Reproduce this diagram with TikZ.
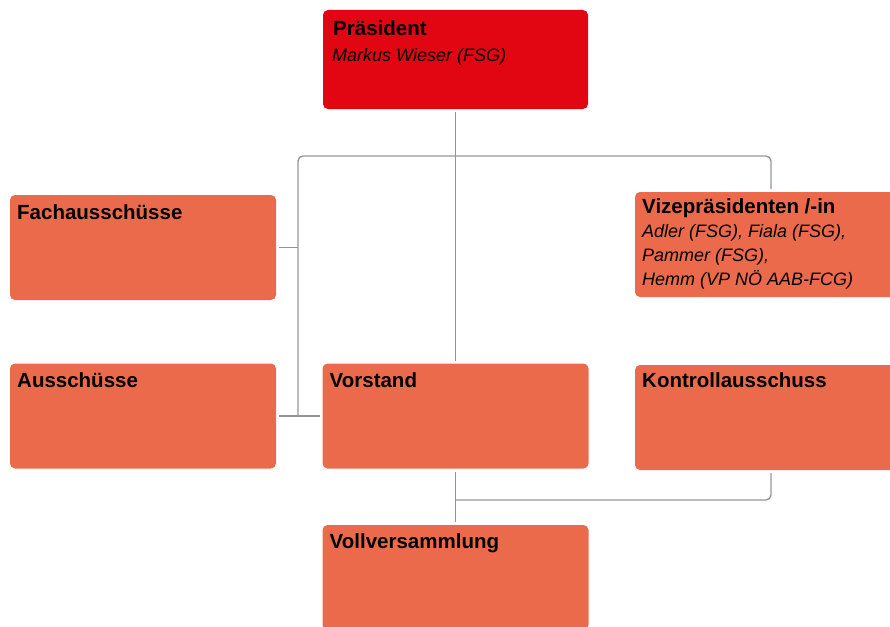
\documentclass[tikz,border=0pt]{standalone}
\usepackage{fontspec}
\setmainfont{Liberation Sans}
\usetikzlibrary{positioning}
\definecolor{chairred}{RGB}{226,6,19}
\definecolor{boxorange}{RGB}{236,106,76}
\definecolor{linegray}{RGB}{150,150,150}

\begin{document}
\begin{tikzpicture}[x=1pt,y=-1pt,
  box/.style={rectangle,rounded corners=5pt,fill=boxorange,minimum width=266pt,minimum height=105pt,inner sep=0pt,outer sep=0pt},
  title/.style={anchor=base west,inner sep=0pt,font=\fontsize{20.5}{24}\selectfont\bfseries},
  names/.style={anchor=base west,inner sep=0pt,align=left,font=\fontsize{18}{24}\selectfont\itshape},
  link/.style={draw=linegray,line width=1.4pt,rounded corners=5pt}]
  \useasboundingbox (0,0) rectangle (890,626);
  % boxes
  \node[box,fill=chairred,minimum width=265pt,minimum height=99pt] (praesident) at (455.5,59.5) {};
  \node[box] (fachaus) at (143,247.5) {};
  \node[box] (vize) at (768,244.5) {};
  \node[box] (aussch) at (143,416) {};
  \node[box] (vorstand) at (455.5,416) {};
  \node[box] (kontroll) at (768,417.5) {};
  \node[box] (vollvers) at (455.5,577.5) {};
  % texts (multi-line names sit on their last baseline)
  \node[title] (praesTitle) at ([shift={(10,26)}]praesident.north west) {Präsident};
  \node[names] (praesNames) at ([shift={(9,52)}]praesident.north west) {Markus Wieser (FSG)};
  \node[title] (fachTitle) at ([shift={(7,24)}]fachaus.north west) {Fachausschüsse};
  \node[title] (vizeTitle) at ([shift={(7,21)}]vize.north west) {Vizepräsidenten /-in};
  \node[names] (vizeNames) at ([shift={(7,93)}]vize.north west) {Adler (FSG), Fiala (FSG),\\Pammer (FSG),\\Hemm (VP NÖ AAB-FCG)};
  \node[title] (ausTitle) at ([shift={(7,24)}]aussch.north west) {Ausschüsse};
  \node[title] (vorTitle) at ([shift={(7,24)}]vorstand.north west) {Vorstand};
  \node[title] (kontrTitle) at ([shift={(7,22)}]kontroll.north west) {Kontrollausschuss};
  \node[title] (vollTitle) at ([shift={(7,23)}]vollvers.north west) {Vollversammlung};
  % connectors
  \coordinate (ltop) at (298,156);
  \coordinate (rtop) at (771,156);
  \coordinate (rbot) at (771,500);
  \draw[link,shorten <=3pt,shorten >=3pt] (praesident) -- (vorstand);
  \draw[link,shorten <=3pt] (vize.north -| rtop) -- (rtop) -- (ltop) -- (ltop |- aussch.east);
  \draw[link,shorten <=3pt] (fachaus.east) -- (fachaus.east -| ltop);
  \draw[link,shorten <=3pt,shorten >=3pt] (aussch) -- (vorstand);
  \draw[link,shorten <=3pt,shorten >=3pt] (vorstand) -- (vollvers);
  \draw[link,shorten <=3pt] (kontroll.south -| rbot) -- (rbot) -- (rbot -| vorstand.south);
\end{tikzpicture}
\end{document}
